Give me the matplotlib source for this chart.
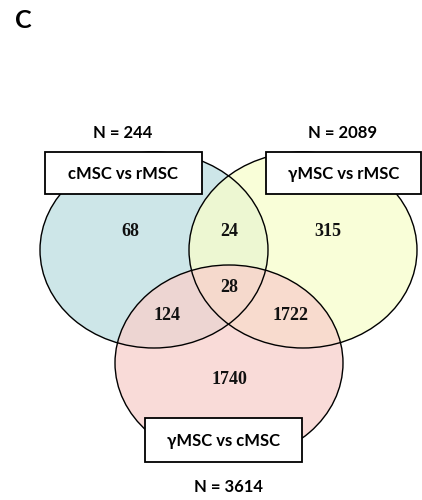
import matplotlib.pyplot as plt
from matplotlib.patches import Ellipse

# set names, sizes and region counts
set_labels = ['cMSC vs rMSC', 'γMSC vs rMSC', 'γMSC vs cMSC']
set_sizes = [244, 2089, 3614]
# regions: only A, A&B, only B, A&B&C, A&C, B&C, only C
region_names = ['A', 'AB', 'B', 'ABC', 'AC', 'BC', 'C']
region_counts = [68, 24, 315, 28, 124, 1722, 1740]

fig = plt.figure(figsize=(4.22, 5.0), dpi=100)
ax = fig.add_axes([0, 0, 1, 1])
ax.set_xlim(0, 422)
ax.set_ylim(500, 0)
ax.axis('off')

# ellipse geometry in pixel coords (centre x, centre y)
centers = [(154, 250), (303, 250), (229, 363)]
w, h = 228, 196
fills = [((205/255, 230/255, 232/255), 1.0),
         ((248/255, 254/255, 203/255), 0.75),
         ((248/255, 208/255, 203/255), 0.75)]

for (cx, cy), (col, a) in zip(centers, fills):
    ax.add_patch(Ellipse((cx, cy), w, h, facecolor=col, alpha=a, edgecolor='none', zorder=1))
for cx, cy in centers:
    ax.add_patch(Ellipse((cx, cy), w, h, facecolor='none', edgecolor='black', lw=1.0, zorder=2))

# region numbers
region_pos = {'A': (130, 231), 'AB': (229, 231), 'B': (328, 231), 'ABC': (229, 287),
              'AC': (167, 316), 'BC': (291, 316), 'C': (229, 380)}
for name, cnt in zip(region_names, region_counts):
    x, y = region_pos[name]
    ax.text(x, y, str(cnt), ha='center', va='center', fontsize=13, fontweight='bold',
            family='Liberation Serif', color='#111111', zorder=3)

# label boxes
boxes = [(45, 152, 157, 42), (266, 152, 155, 42), (145, 418, 157, 44)]
for (bx, by, bw, bh), lab in zip(boxes, set_labels):
    ax.add_patch(plt.Rectangle((bx, by), bw, bh, facecolor='white', edgecolor='black', lw=1.3, zorder=4))
    ax.text(bx + bw / 2, by + bh / 2 + 1, lab, ha='center', va='center', fontsize=12,
            fontweight='bold', family=['Lato', 'DejaVu Sans'], zorder=5)

# N labels
n_pos = [(123, 133), (343, 133), (228, 487)]
for (x, y), n in zip(n_pos, set_sizes):
    ax.text(x, y, f'N = {n}', ha='center', va='center', fontsize=12, fontweight='bold',
            family='Lato')

ax.text(15, 20, 'C', ha='left', va='center', fontsize=18, fontweight='bold', family='Lato')

fig.savefig('out.png', dpi=100)
